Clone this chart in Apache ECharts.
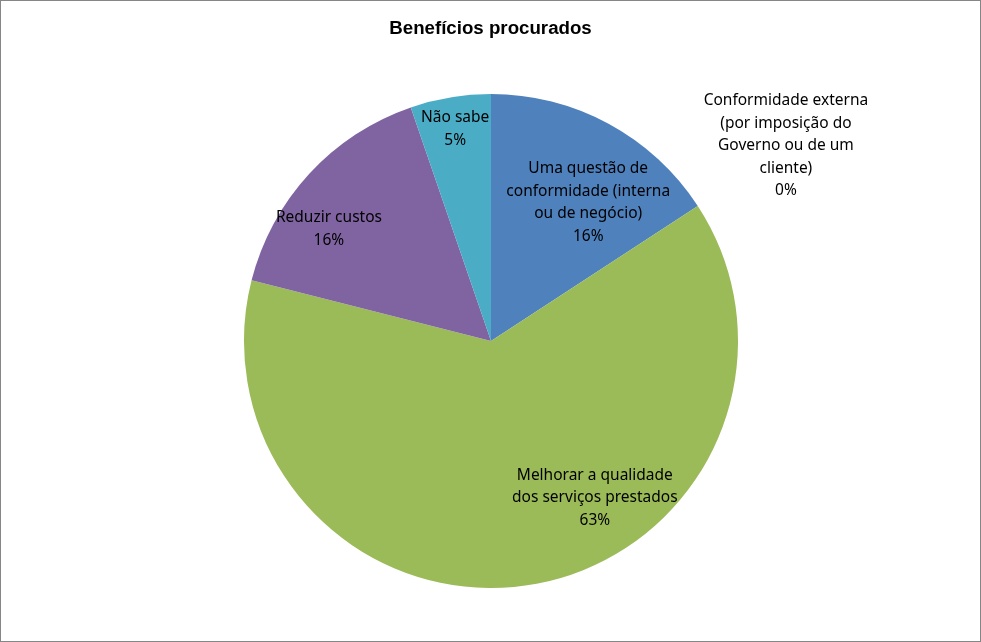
<!DOCTYPE html>
<html>
<head>
<meta charset="utf-8">
<script src="https://cdn.jsdelivr.net/npm/echarts@6/dist/echarts.min.js"></script>
<style>
html,body{margin:0;padding:0;background:#fff;}
#chart{width:981px;height:642px;box-sizing:border-box;border:1px solid #868686;}
</style>
</head>
<body>
<div id="chart"></div>
<script>
// Data (counts; labels show rounded percentages)
const categories = [
  "Uma questão de\nconformidade (interna\nou de negócio)",
  "Conformidade externa\n(por imposição do\nGoverno ou de um\ncliente)",
  "Melhorar a qualidade\ndos serviços prestados",
  "Reduzir custos",
  "Não sabe"
];
const values = [3, 0, 12, 3, 1];
const colors = ["#4F81BD", "#C0504D", "#9BBB59", "#8064A2", "#4BACC6"];
// label nudges relative to default inside position (layout, not data)
const labelShift = [[37, -27], [189, -126], [83, 32], [-69, -26], [-15, -87]];

const chart = echarts.init(document.getElementById('chart'));
chart.setOption({
  animation: false,
  title: {
    text: 'Benefícios procurados',
    left: 'center',
    top: 13,
    textStyle: {fontFamily: 'Liberation Sans', fontWeight: 'bold', fontSize: 18.7, color: '#000'}
  },
  series: [{
    type: 'pie',
    center: [490, 340],
    radius: [0, 247],
    startAngle: 90,
    clockwise: true,
    percentPrecision: 0,
    avoidLabelOverlap: false,
    itemStyle: {borderWidth: 0},
    emphasis: {disabled: true},
    label: {
      show: true,
      position: 'inside',
      formatter: '{b}\n{d}%',
      fontFamily: 'Noto Sans',
      fontSize: 15.5,
      lineHeight: 22.5,
      color: '#000',
      align: 'center'
    },
    labelLine: {show: false},
    labelLayout: function (p) {
      const s = labelShift[p.dataIndex];
      return {dx: s[0], dy: s[1]};
    },
    data: categories.map((c, i) => ({name: c, value: values[i], itemStyle: {color: colors[i]}}))
  }]
});
</script>
</body>
</html>
